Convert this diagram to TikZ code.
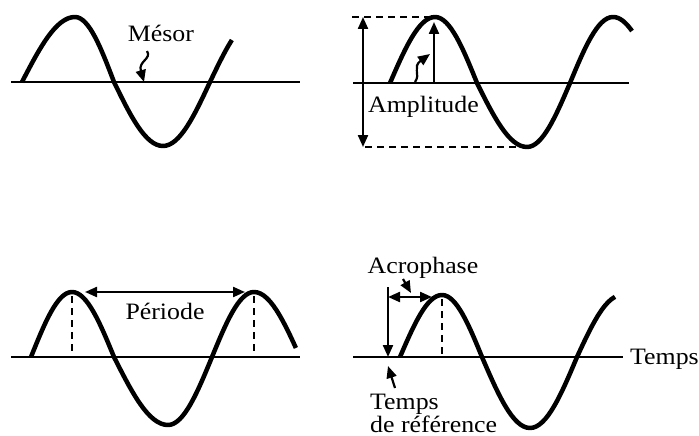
\documentclass[tikz,border=0pt]{standalone}
\usepackage{fontspec}
\setmainfont[FakeStretch=1.1]{Liberation Serif}
\usetikzlibrary{arrows.meta}
\tikzset{
  wave/.style={line width=4.5pt, line join=round},
  axis/.style={line width=2.5pt},
  guide/.style={line width=2.2pt, dash pattern=on 7pt off 5pt},
  tipA/.tip={Triangle[length=12pt,width=10pt]},
  arr/.style={line width=2.2pt, -tipA},
  darr/.style={line width=2.2pt, tipA-tipA},
  lbl/.style={font=\fontsize{23.5}{27}\selectfont, inner sep=0pt},
}
\begin{document}
\begin{tikzpicture}[x=1pt,y=-1pt]
\useasboundingbox (0,0) rectangle (699,436);

% ---------- Panel 1 : Mesor ----------
\coordinate (b1l) at (11,82);
\coordinate (b1r) at (300,82);
\draw[axis] (b1l) -- (b1r);
\draw[wave] (22,82) sin (75,17) cos (114,82) sin (163,146) cos (210,82)
  -- plot[domain=0:41, samples=12] ({210+48*\x/90},{82-64*sin(\x)});
\node[lbl, anchor=base] (mesor) at (161,42) {Mésor};
\coordinate (m0) at (147,51);
\coordinate (m1) at (144,82);
\draw[arr] (m0) .. controls (152,59) and (138,61) .. (m1);

% ---------- Panel 2 : Amplitude ----------
\coordinate (b2l) at (353,83);
\coordinate (b2r) at (629,83);
\draw[axis] (b2l) -- (b2r);
\coordinate (pk2) at (435,17);
\coordinate (tr2) at (527,147);
\coordinate (d2a) at (352,17);
\coordinate (d2b) at (365,147);
\draw[guide] (d2a) -- (pk2);
\draw[guide] (d2b) -- (tr2);
\draw[wave] (390,83) sin (435,17) cos (477,83) sin (527,147) cos (570,83) sin (613,17)
  -- plot[domain=0:38, samples=12] ({613+45*\x/90},{17+66*(1-cos(\x))});
\coordinate (v2t) at (363,17);
\coordinate (v2b) at (363,147);
\draw[darr] (v2t) -- (v2b);
\coordinate (a2b) at (434,83);
\coordinate (a2t) at (434,22);
\draw[arr] (a2b) -- (a2t);
\coordinate (w0) at (415,82);
\coordinate (w1) at (430,54);
\draw[arr] (w0) .. controls (421,74) and (412,67) .. (w1);
\node[lbl, anchor=base west] (ampl) at (368,113) {Amplitude};

% ---------- Panel 3 : Periode ----------
\coordinate (b3l) at (11,357);
\coordinate (b3r) at (300,357);
\draw[axis] (b3l) -- (b3r);
\draw[wave] (31,357) sin (72,292) cos (114,357) sin (168,425) cos (212,357) sin (254,292)
  -- plot[domain=0:82, samples=14] ({254+46*\x/90},{292+65*(1-cos(\x))});
\coordinate (p3a) at (72,296);
\coordinate (p3a0) at (72,357);
\coordinate (p3b) at (254,296);
\coordinate (p3b0) at (254,357);
\draw[guide] (p3a) -- (p3a0);
\draw[guide] (p3b) -- (p3b0);
\coordinate (pl) at (85,292);
\coordinate (pr) at (245,292);
\draw[darr] (pl) -- (pr);
\node[lbl, anchor=base] (periode) at (165,319) {Période};

% ---------- Panel 4 : Acrophase ----------
\coordinate (b4l) at (353,357);
\coordinate (b4r) at (623,357);
\draw[axis] (b4l) -- (b4r);
\node[lbl, anchor=base west] (temps) at (630,364) {Temps};
\draw[wave] (400,357) sin (442,295) cos (482,357) sin (530,428) cos (577,357)
  -- plot[domain=0:76, samples=12] ({577+45*\x/90},{357-62*sin(\x)});
\coordinate (p4) at (442,299);
\coordinate (p40) at (442,357);
\draw[guide] (p4) -- (p40);
\coordinate (rt) at (388,287);
\coordinate (rb) at (388,357);
\draw[arr] (rt) -- (rb);
\coordinate (hl) at (388,297);
\coordinate (hr) at (432,297);
\draw[darr] (hl) -- (hr);
\node[lbl, anchor=base] (acro) at (423,273) {Acrophase};
\coordinate (ac0) at (403,279);
\coordinate (ac1) at (411,293);
\draw[arr] (ac0) -- (ac1);
\node[lbl, anchor=base west] (tref1) at (370,409) {Temps};
\node[lbl, anchor=base west] (tref2) at (370,432) {de référence};
\coordinate (tr0) at (395,388);
\coordinate (tr1) at (388,366);
\draw[arr] (tr0) -- (tr1);
\end{tikzpicture}
\end{document}
